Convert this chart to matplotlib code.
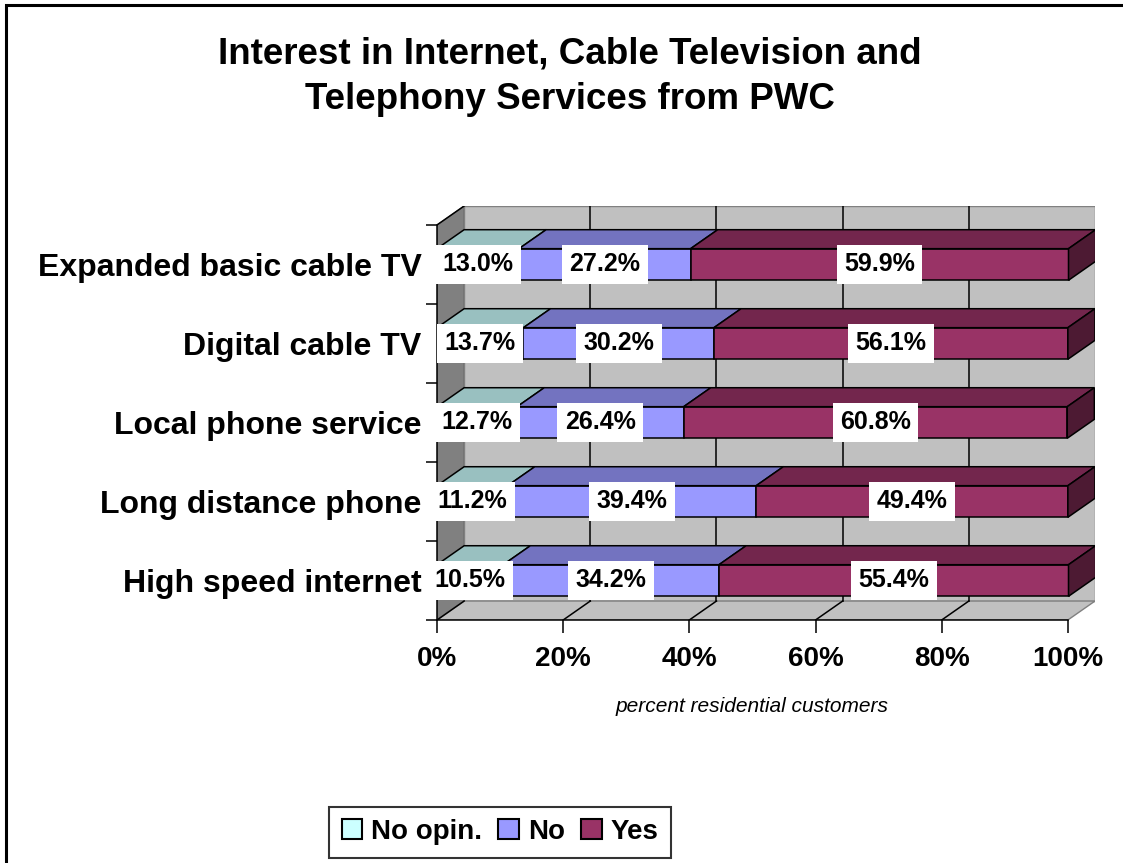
import matplotlib.pyplot as plt
from matplotlib.patches import Polygon, Rectangle, Patch

plt.rcParams['font.family'] = ['Liberation Sans', 'DejaVu Sans']

# survey results, bottom row first
categories = ['High speed internet', 'Long distance phone', 'Local phone service',
              'Digital cable TV', 'Expanded basic cable TV']
no_opinion = [10.5, 11.2, 12.7, 13.7, 13.0]
no = [34.2, 39.4, 26.4, 30.2, 27.2]
yes = [55.4, 49.4, 60.8, 56.1, 59.9]
series_names = ['No opin.', 'No', 'Yes']
xticks = [0, 20, 40, 60, 80, 100]

front_cols = ['#CCFFFF', '#9999FF', '#993366']
top_cols = ['#99C0C0', '#7373C0', '#73264D']
side_col = '#4D1A33'

# fake 3d depth, in data units
DX = 4.3
DY = 0.24
H = 0.4
lw = 1.1

fig = plt.figure(figsize=(11.23, 8.63), dpi=100)
ax = fig.add_axes([437 / 1123, 1 - 620 / 863, 658 / 1123, 414 / 863])
ax.set_xlim(0, 100 + DX)
ax.set_ylim(-0.5, 4.5 + DY)
n = len(categories)

# walls and floor
ax.add_patch(Polygon([(0, -0.5), (0, n - 0.5), (DX, n - 0.5 + DY), (DX, -0.5 + DY)],
                     closed=True, facecolor='#808080', edgecolor='#606060', lw=0.8, zorder=0))
ax.add_patch(Rectangle((DX, -0.5 + DY), 100, n, facecolor='#C0C0C0',
                       edgecolor='#808080', lw=1.0, zorder=0))
ax.add_patch(Polygon([(0, -0.5), (DX, -0.5 + DY), (100 + DX, -0.5 + DY), (100, -0.5)],
                     closed=True, facecolor='#C0C0C0', edgecolor='#808080', lw=1.0, zorder=0))
ax.plot([0, DX], [n - 0.5, n - 0.5 + DY], color='black', lw=lw, zorder=1)
for t in xticks[1:-1]:
    ax.plot([t + DX, t + DX], [-0.5 + DY, n - 0.5 + DY], color='black', lw=lw, zorder=1)
for t in xticks[:-1]:
    ax.plot([t, t + DX], [-0.5, -0.5 + DY], color='black', lw=lw, zorder=1)

# stacked bars
for i in range(n):
    vals = [no_opinion[i], no[i], yes[i]]
    left = 0
    for k, v in enumerate(vals):
        right = left + v
        y0, y1 = i - H / 2, i + H / 2
        ax.add_patch(Rectangle((left, y0), v, H, facecolor=front_cols[k],
                               edgecolor='black', lw=lw, zorder=3))
        ax.add_patch(Polygon([(left, y1), (left + DX, y1 + DY), (right + DX, y1 + DY), (right, y1)],
                             closed=True, facecolor=top_cols[k], edgecolor='black', lw=lw, zorder=3))
        if k == len(vals) - 1:
            ax.add_patch(Polygon([(right, y0), (right, y1), (right + DX, y1 + DY), (right + DX, y0 + DY)],
                                 closed=True, facecolor=side_col, edgecolor='black', lw=lw, zorder=3))
        ax.text(left + v / 2, i, '%.1f%%' % v, ha='center', va='center',
                fontsize=18, fontweight='bold', zorder=5,
                bbox=dict(boxstyle='square,pad=0.3', facecolor='white', edgecolor='none'))
        left = right

# axes
for s in ['top', 'right']:
    ax.spines[s].set_visible(False)
ax.spines['bottom'].set_bounds(0, 100)
ax.spines['left'].set_bounds(-0.5, n - 0.5)
ax.spines['bottom'].set_linewidth(lw)
ax.spines['left'].set_linewidth(lw)
ax.spines['bottom'].set_zorder(4)
ax.set_xticks(xticks)
ax.set_xticklabels(['%d%%' % t for t in xticks], fontsize=20, fontweight='bold')
ax.tick_params(axis='x', length=9, width=lw, pad=10)
ax.set_yticks(range(n))
ax.set_yticklabels(categories, fontsize=23, fontweight='bold')
ax.tick_params(axis='y', which='major', length=0, pad=11)
ax.set_yticks([i - 0.5 for i in range(n + 1)], minor=True)
ax.tick_params(axis='y', which='minor', length=8, width=lw)
ax.set_xlabel('percent residential customers', fontsize=15, fontstyle='italic')
ax.xaxis.set_label_coords(50 / (100 + DX), -0.187)

fig.text(570 / 1123, 1 - 77 / 863, 'Interest in Internet, Cable Television and\nTelephony Services from PWC',
         ha='center', va='center', fontsize=26.5, fontweight='bold', linespacing=1.38)

handles = [Patch(facecolor=c, edgecolor='black', lw=1.5) for c in front_cols]
leg = fig.legend(handles, series_names, loc='center', bbox_to_anchor=(500 / 1123, 1 - 832 / 863),
                 ncol=3, prop={'size': 20, 'weight': 'bold'}, frameon=True, fancybox=False,
                 edgecolor='black', handlelength=0.75, handleheight=0.75, handletextpad=0.3,
                 columnspacing=0.6, borderpad=0.45, borderaxespad=0)
leg.get_frame().set_linewidth(1.5)

# chart border
fig.patches.append(Rectangle((6 / 1123, -0.1), 1.2, 1 - 5 / 863 + 0.1, transform=fig.transFigure,
                             fill=False, edgecolor='black', lw=2.2))

fig.savefig('out.png', dpi=100)
